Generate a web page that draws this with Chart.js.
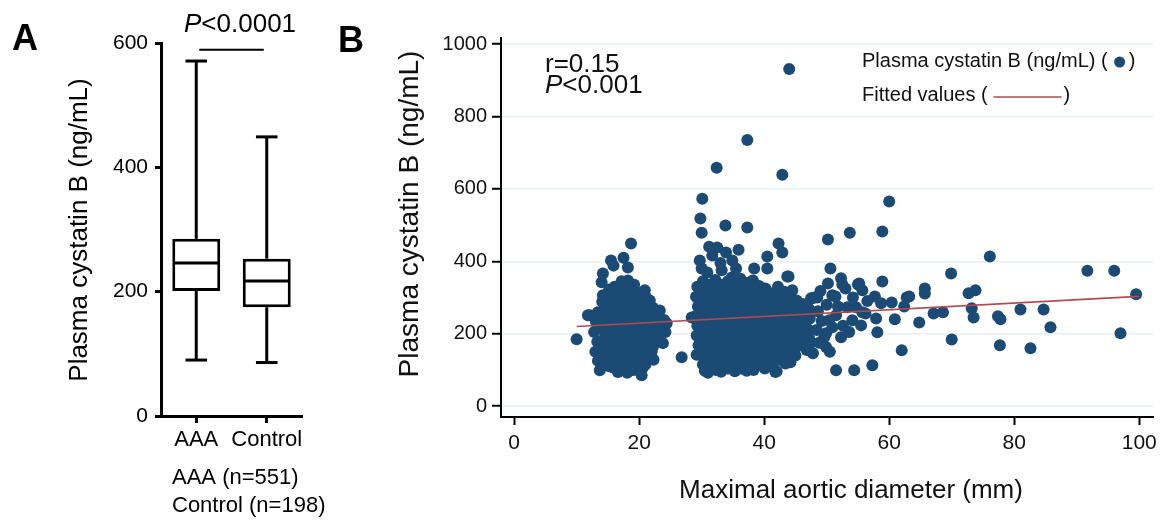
<!DOCTYPE html>
<html>
<head>
<meta charset="utf-8">
<script src="https://cdn.jsdelivr.net/npm/chart.js@4.4.1/dist/chart.umd.min.js"></script>
<style>
  body { margin: 0; background: #fff; }
  #wrap { position: relative; width: 1169px; height: 521px; }
  canvas { position: absolute; top: 0; }
</style>
</head>
<body>
<div id="wrap">
  <canvas id="boxes" width="330" height="521" style="left:0"></canvas>
  <canvas id="scatter" width="839" height="521" style="left:330px"></canvas>
</div>
<script>
// ---- panel A: box plot ----
const groupLabels = ['AAA', 'Control']
const groupNotes = ['AAA (n=551)', 'Control (n=198)']
const boxMin = [90, 86]
const boxQ1 = [201, 175]
const boxMedian = [246, 217]
const boxQ3 = [285, 253]
const boxMax = [571, 449]
const yTicksA = [0, 200, 400, 600]
const pBracketA = 589
const pTextA = '<0.0001'

// ---- panel B: scatter ----
const xTicksB = [0, 20, 40, 60, 80, 100]
const yTicksB = [0, 200, 400, 600, 800, 1000]
const fitX = [10, 100]
const fitY = [220, 303]
const statR = 'r=0.15'
const statP = '<0.001'

// diameter ~10-27 mm
const diamSmall = [
  [18.7,449],[17.5,410],[15.5,402],[15.9,388],[18.2,383],[14.2,366],[14.0,342],[18.2,347],[14.2,306],[11.8,251],
  [10.0,185],[13.4,259],[20.9,320],[21.7,292],[23.3,264],[24.4,229],[23.8,174],[22.2,163],[26.8,135],[13.7,99],
  [15.8,107],[20.6,107],[20.4,85],[16.6,94],[21.7,135],[12.1,251],
  [13.1,232],[12.8,205],[13.3,178],[13.0,150],[13.4,125],
  [14.1,288],[14.4,262],[13.9,240],[14.2,212],[14.5,190],[14.0,165],[14.3,140],[14.6,118],
  [15.2,322],[15.0,295],[15.3,270],[14.9,248],[15.4,222],[15.1,198],[15.3,176],[15.0,152],[15.5,128],[15.2,110],
  [16.1,330],[16.3,305],[15.9,280],[16.2,258],[16.0,232],[16.4,208],[16.1,185],[15.8,162],[16.3,140],[16.0,118],[16.5,100],
  [17.2,345],[17.0,318],[17.4,292],[17.1,268],[16.9,245],[17.3,220],[17.0,196],[17.4,172],[17.1,150],[17.3,126],[17.0,108],
  [18.3,325],[18.0,300],[18.4,276],[18.1,252],[18.3,228],[17.9,205],[18.2,182],[18.4,158],[18.0,136],[18.3,114],[18.1,92],
  [19.2,335],[19.0,310],[19.4,285],[19.1,262],[19.3,238],[18.9,215],[19.2,192],[19.4,168],[19.0,145],[19.3,122],[19.1,100],
  [20.2,312],[20.0,288],[20.3,265],[19.9,242],[20.2,218],[20.4,195],[20.0,172],[20.3,150],[19.9,128],[20.2,112],
  [21.1,300],[21.3,275],[21.0,252],[21.2,228],[20.9,205],[21.3,182],[21.0,158],[21.2,132],[21.0,115],
  [22.2,272],[22.0,248],[22.3,225],[22.1,200],[22.4,180],[22.0,150],[22.3,128],
  [23.0,245],[23.3,220],[23.1,198],[22.9,185],
  [24.0,238],[24.2,205]
]

// diameter ~28-47 mm
const diamMid = [
  [30.1,573],[29.8,518],[30.0,479],[32.4,658],[37.3,735],[42.9,639],[44.0,931],[33.8,499],[37.3,493],[42.3,449],
  [42.9,424],[35.9,432],[40.5,413],[38.4,380],[40.5,380],[43.7,358],[29.7,402],[30.0,380],[31.7,416],[32.5,438],
  [33.9,424],[34.9,402],[34.8,355],[33.2,375],[30.9,369],[31.2,440],[33.0,395],[35.5,380],[28.4,245],[39.6,118],
  [41.8,94],[44.2,121],[47.8,146],[43.9,358],[44.5,320],[47.5,298],[48.0,300],
  [29.3,330],[29.1,302],[29.4,275],[29.0,248],[29.3,222],[29.2,195],[29.5,168],[29.2,142],
  [30.2,345],[30.4,318],[30.1,292],[30.3,265],[30.0,240],[30.4,215],[30.2,190],[30.1,165],[30.4,140],[30.2,115],[30.5,98],
  [31.2,335],[31.0,308],[31.3,282],[31.1,258],[31.4,232],[31.2,208],[31.0,182],[31.3,158],[31.1,132],[31.4,110],[31.0,92],
  [32.2,348],[32.0,322],[32.3,296],[32.1,270],[32.4,245],[32.0,220],[32.3,195],[32.1,170],[32.4,145],[32.0,120],[32.3,100],
  [33.2,335],[33.0,310],[33.4,285],[33.1,260],[33.3,235],[33.0,210],[33.4,185],[33.2,160],[33.0,135],[33.3,112],[33.1,95],
  [34.2,345],[34.0,320],[34.3,295],[34.1,270],[34.4,245],[34.0,222],[34.3,198],[34.1,172],[34.4,148],[34.0,125],[34.2,104],
  [35.2,338],[35.0,312],[35.3,288],[35.1,262],[35.4,238],[35.0,212],[35.3,188],[35.1,162],[35.4,138],[35.0,115],[35.3,96],
  [36.2,352],[36.0,326],[36.3,300],[36.1,276],[36.4,250],[36.0,226],[36.3,200],[36.1,176],[36.4,150],[36.0,126],[36.3,104],
  [37.2,340],[37.0,315],[37.3,290],[37.1,265],[37.4,240],[37.0,215],[37.3,190],[37.1,165],[37.4,140],[37.0,116],[37.2,98],
  [38.2,347],[38.0,322],[38.3,296],[38.1,272],[38.4,246],[38.0,222],[38.3,196],[38.1,172],[38.4,146],[38.0,122],[38.3,100],
  [39.2,332],[39.0,306],[39.3,282],[39.1,256],[39.4,232],[39.0,206],[39.3,182],[39.1,156],[39.4,132],
  [40.2,325],[40.0,300],[40.3,276],[40.1,250],[40.4,226],[40.0,200],[40.3,176],[40.1,150],[40.4,126],[40.1,104],
  [41.2,312],[41.0,288],[41.3,262],[41.1,238],[41.4,212],[41.0,188],[41.3,162],[41.1,138],[41.3,112],
  [42.2,330],[42.0,304],[42.3,278],[42.1,252],[42.4,228],[42.0,202],[42.3,178],[42.1,152],[42.4,128],[42.0,96],
  [43.2,316],[43.0,290],[43.3,266],[43.1,240],[43.4,215],[43.0,190],[43.3,166],[43.1,142],[43.4,118],
  [44.2,302],[44.0,276],[44.3,250],[44.1,226],[44.4,200],[44.0,176],[44.3,150],
  [45.2,292],[45.0,266],[45.3,240],[45.1,215],[45.4,190],[45.1,163],[45.0,140],
  [46.2,282],[46.0,256],[46.1,229],[46.3,205],[46.1,182],
  [47.1,270],[47.3,242],[47.0,212],[47.2,186]
]

// diameter ~46-100 mm
const diamLarge = [
  [47.7,298],[48.5,300],[50.9,306],[53.3,273],[54.1,237],[52.3,190],[49.6,190],[49.9,163],[46.1,229],[46.1,182],
  [45.1,163],[55.5,223],[54.7,273],[51.5,251],[50.4,237],[50.9,218],[60.0,565],[58.9,482],[53.7,479],[50.2,460],
  [50.6,380],[50.2,339],[52.3,353],[52.5,336],[55.2,339],[55.7,320],[58.9,344],[57.7,303],[60.4,286],[62.8,300],
  [55.7,259],[57.9,242],[60.9,240],[58.1,204],[62.0,154],[57.3,113],[54.4,99],[51.5,99],
  [76.1,413],[91.7,374],[96.0,374],[99.5,309],[97.0,201],[69.9,366],[72.7,312],[73.8,320],[65.7,325],[65.7,311],
  [63.2,303],[62.4,275],[58.7,284],[68.6,259],[67.1,256],[73.2,270],[73.5,245],[77.4,248],[77.8,240],[81.0,267],
  [84.7,267],[85.8,218],[70.0,184],[77.7,168],[82.6,160],[64.8,231],[49.9,201],[51.4,303],[55.0,336],
  [48.6,262],[49.2,235],[50.0,280],[51.8,275],[52.6,222],[53.6,205],[48.4,210],[47.5,175],[49.0,318],[53.0,325],
  [56.5,290],[54.2,300],[56.2,256],[48.8,175],[46.8,155],[50.5,150]
]

Chart.defaults.font.family = "'Liberation Sans', Arial, sans-serif"
Chart.defaults.color = '#111'

const sans = "'Liberation Sans', Arial, sans-serif"

// whiskers, medians and labels for panel A
const boxExtras = {
  id: 'boxExtras',
  afterDatasetsDraw(chart) {
    const { ctx, scales: { y } } = chart
    const meta = chart.getDatasetMeta(0)
    ctx.save()
    ctx.strokeStyle = '#000'
    ctx.lineWidth = 3
    ctx.lineCap = 'butt'
    const seg = (x1, y1, x2, y2) => { ctx.beginPath(); ctx.moveTo(x1, y1); ctx.lineTo(x2, y2); ctx.stroke() }
    groupLabels.forEach((g, i) => {
      const bar = meta.data[i]
      const cx = bar.x
      const half = bar.width / 2
      const cap = half * 0.45
      seg(cx, y.getPixelForValue(boxQ3[i]), cx, y.getPixelForValue(boxMax[i]))
      seg(cx, y.getPixelForValue(boxQ1[i]), cx, y.getPixelForValue(boxMin[i]))
      seg(cx - cap, y.getPixelForValue(boxMax[i]), cx + cap, y.getPixelForValue(boxMax[i]))
      seg(cx - cap, y.getPixelForValue(boxMin[i]), cx + cap, y.getPixelForValue(boxMin[i]))
      seg(cx - half + 1, y.getPixelForValue(boxMedian[i]), cx + half - 1, y.getPixelForValue(boxMedian[i]))
    })
    // significance bracket
    ctx.lineWidth = 2
    const by = y.getPixelForValue(pBracketA)
    seg(meta.data[0].x + 3, by, meta.data[1].x - 3, by)
    ctx.restore()
  },
  afterDraw(chart) {
    const { ctx } = chart
    ctx.save()
    ctx.fillStyle = '#000'
    ctx.textBaseline = 'alphabetic'
    ctx.font = 'bold 36px ' + sans
    ctx.fillText('A', 12, 50)
    ctx.font = 'italic 26px ' + sans
    ctx.fillText('P', 184, 32)
    const pw = ctx.measureText('P').width
    ctx.font = '26px ' + sans
    ctx.fillText(pTextA, 184 + pw, 32)
    ctx.font = '22px ' + sans
    ctx.textBaseline = 'middle'
    groupNotes.forEach((t, i) => ctx.fillText(t, 172, 478 + i * 28))
    ctx.translate(80, 230)
    ctx.rotate(-Math.PI / 2)
    ctx.textAlign = 'center'
    ctx.font = '26px ' + sans
    ctx.fillText('Plasma cystatin B (ng/mL)', 0, 0)
    ctx.restore()
  }
}

new Chart(document.getElementById('boxes'), {
  type: 'bar',
  data: {
    labels: groupLabels,
    datasets: [{
      data: groupLabels.map((g, i) => [boxQ1[i], boxQ3[i]]),
      backgroundColor: '#fff',
      borderColor: '#000',
      borderWidth: 3,
      borderSkipped: false,
      barPercentage: 0.68,
      categoryPercentage: 1
    }]
  },
  options: {
    responsive: false,
    animation: false,
    layout: { padding: { top: 43, right: 28, left: 0, bottom: 0 } },
    plugins: { legend: { display: false }, tooltip: { enabled: false } },
    scales: {
      x: {
        grid: { drawOnChartArea: false, offset: false, tickLength: 7, tickWidth: 3, tickColor: '#000' },
        border: { color: '#000', width: 3 },
        ticks: { font: { size: 22 }, color: '#000', padding: 4, autoSkip: false, maxRotation: 0, minRotation: 0 },
        afterFit(s) { s.height = 105 }
      },
      y: {
        min: 0,
        max: 600,
        afterBuildTicks(s) { s.ticks = yTicksA.map(v => ({ value: v })) },
        grid: { drawOnChartArea: false, tickLength: 6, tickWidth: 3, tickColor: '#000' },
        border: { color: '#000', width: 3 },
        ticks: { font: { size: 21 }, color: '#000', padding: 7, callback: v => String(v) },
        afterFit(s) { s.width = 161 }
      }
    }
  },
  plugins: [boxExtras]
})

// titles, stats and legend for panel B
const scatterExtras = {
  id: 'scatterExtras',
  afterDraw(chart) {
    const { ctx } = chart
    ctx.save()
    ctx.fillStyle = '#000'
    ctx.font = 'bold 36px ' + sans
    ctx.fillText('B', 8, 52)

    ctx.fillStyle = '#111'
    ctx.font = '26px ' + sans
    ctx.fillText(statR, 215, 72)
    ctx.font = 'italic 26px ' + sans
    ctx.fillText('P', 215, 93)
    const pw = ctx.measureText('P').width
    ctx.font = '26px ' + sans
    ctx.fillText(statP, 215 + pw, 93)

    // legend
    ctx.font = '20px ' + sans
    ctx.textBaseline = 'middle'
    let t1 = 'Plasma cystatin B (ng/mL) ('
    ctx.fillText(t1, 532, 61)
    let cx = 532 + ctx.measureText(t1).width
    ctx.fillStyle = '#1b4a75'
    ctx.beginPath(); ctx.arc(cx + 12, 62, 5.5, 0, Math.PI * 2); ctx.fill()
    ctx.fillStyle = '#111'
    ctx.fillText(')', cx + 21, 61)
    let t2 = 'Fitted values ('
    ctx.fillText(t2, 532, 95)
    cx = 532 + ctx.measureText(t2).width
    ctx.strokeStyle = '#b04a4e'
    ctx.lineWidth = 1.6
    ctx.beginPath(); ctx.moveTo(cx + 6, 97); ctx.lineTo(cx + 74, 97); ctx.stroke()
    ctx.fillText(')', cx + 76, 95)

    // axis titles
    ctx.font = '26px ' + sans
    ctx.textAlign = 'center'
    ctx.fillText('Maximal aortic diameter (mm)', 521, 491)
    ctx.translate(80, 214)
    ctx.rotate(-Math.PI / 2)
    ctx.font = '28px ' + sans
    ctx.fillText('Plasma cystatin B (ng/mL)', 0, 0)
    ctx.restore()
  }
}

new Chart(document.getElementById('scatter'), {
  type: 'scatter',
  data: {
    datasets: [
      {
        type: 'line',
        data: fitX.map((x, i) => ({ x, y: fitY[i] })),
        borderColor: '#b04a4e',
        borderWidth: 1.6,
        pointRadius: 0,
        fill: false,
        order: 0
      },
      {
        data: [...diamSmall, ...diamMid, ...diamLarge].map(([x, y]) => ({ x, y })),
        backgroundColor: '#1b4a75',
        borderWidth: 0,
        pointRadius: 6,
        order: 1
      }
    ]
  },
  options: {
    responsive: false,
    animation: false,
    layout: { padding: { top: 38, right: 16, left: 0, bottom: 0 } },
    plugins: { legend: { display: false }, tooltip: { enabled: false } },
    scales: {
      x: {
        type: 'linear',
        min: -2.1,
        max: 102.2,
        afterBuildTicks(s) { s.ticks = xTicksB.map(v => ({ value: v })) },
        grid: { drawOnChartArea: false, tickLength: 8, tickWidth: 2, tickColor: '#000' },
        border: { color: '#000', width: 2 },
        ticks: { font: { size: 21 }, color: '#111', padding: 6, maxRotation: 0, callback: v => String(v) },
        afterFit(s) { s.height = 104 }
      },
      y: {
        min: -30,
        max: 1016.6,
        afterBuildTicks(s) { s.ticks = yTicksB.map(v => ({ value: v })) },
        grid: { color: '#e6eff2', lineWidth: 1.5, tickLength: 9, tickWidth: 2, tickColor: '#000' },
        border: { color: '#000', width: 2 },
        ticks: { font: { size: 20 }, color: '#111', padding: 5, callback: v => String(v) },
        afterFit(s) { s.width = 171 }
      }
    }
  },
  plugins: [scatterExtras]
})
</script>
</body>
</html>
